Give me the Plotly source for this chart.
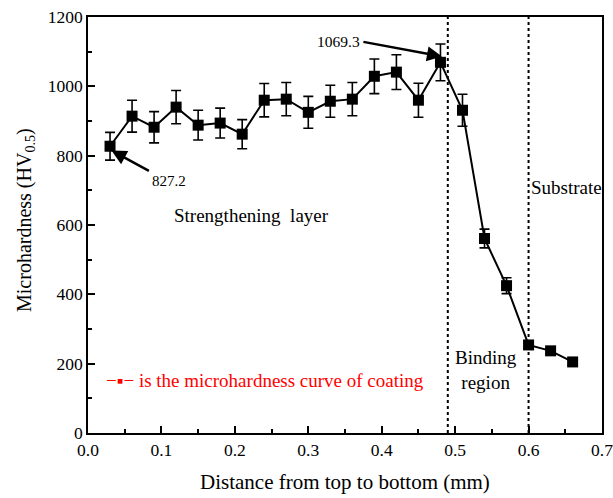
import plotly.graph_objects as go

distance = [0.03, 0.06, 0.09, 0.12, 0.15, 0.18, 0.21, 0.24, 0.27, 0.30, 0.33,
            0.36, 0.39, 0.42, 0.45, 0.48, 0.51, 0.54, 0.57, 0.60, 0.63, 0.66]
hardness = [827.2, 914, 882, 940, 888, 894, 862, 960, 963, 925, 957,
            963, 1029, 1041, 960, 1069.3, 931, 561, 425, 254, 237, 205]
error = [40, 46, 45, 48, 43, 43, 42, 48, 48, 46, 46,
         48, 50, 50, 49, 53, 46, 27, 23, 10, 8, 8]
boundaries = [0.49, 0.60]

FONT = "Liberation Serif"

def f(size, color="black"):
    return dict(family=FONT, size=size, color=color)

fig = go.Figure()
fig.add_trace(go.Scatter(
    x=distance, y=hardness, mode="lines+markers",
    line=dict(color="black", width=2),
    marker=dict(symbol="square", size=11, color="black"),
    error_y=dict(type="data", array=error, visible=True, color="black",
                 thickness=1.6, width=5),
    showlegend=False,
))

for b in boundaries:
    fig.add_shape(type="line", x0=b, x1=b, y0=0, y1=1200, xref="x", yref="y",
                  line=dict(color="black", width=2, dash="dot"))

ann = []
ann.append(dict(x=0.032, y=815, ax=0.085, ay=754, xref="x", yref="y",
                axref="x", ayref="y", text="", showarrow=True,
                arrowhead=2, arrowsize=1.2, arrowwidth=2.5, arrowcolor="black"))
ann.append(dict(x=0.482, y=1086, ax=0.373, ay=1129, xref="x", yref="y",
                axref="x", ayref="y", text="", showarrow=True,
                arrowhead=2, arrowsize=1.2, arrowwidth=2.5, arrowcolor="black"))
ann.append(dict(x=0.110, y=727, xref="x", yref="y", text="827.2",
                showarrow=False, font=f(15)))
ann.append(dict(x=0.341, y=1129, xref="x", yref="y", text="1069.3",
                showarrow=False, font=f(15.5)))
ann.append(dict(x=0.222, y=626, xref="x", yref="y", text="Strengthening  layer",
                showarrow=False, font=f(19)))
ann.append(dict(x=0.652, y=707, xref="x", yref="y", text="Substrate",
                showarrow=False, font=f(19)))
ann.append(dict(x=0.542, y=181, xref="x", yref="y", text="Binding<br>region",
                showarrow=False, font=f(19)))
ann.append(dict(x=0.022, y=152, xref="x", yref="y",
                text="−▪− is the microhardness curve of coating",
                xanchor="left", showarrow=False, font=f(19, "red")))
# axis titles
ann.append(dict(x=0, y=0.5, xref="paper", yref="paper", xanchor="center",
                yanchor="middle", xshift=-63, yshift=5, textangle=-90, showarrow=False,
                text="Microhardness (HV<sub>0.5</sub>)", font=f(20)))
ann.append(dict(x=0.5, y=0, xref="paper", yref="paper", xanchor="center",
                yanchor="middle", xshift=0, yshift=-49, showarrow=False,
                text="Distance from top to bottom (mm)", font=f(21)))

fig.update_layout(
    width=613, height=498,
    margin=dict(l=88, r=11, t=17, b=65),
    paper_bgcolor="white", plot_bgcolor="white",
    font=f(17.5),
    annotations=ann,
)
fig.update_xaxes(
    range=[0, 0.7], dtick=0.1, tickformat=".1f", automargin=False,
    ticklabeloverflow="allow",
    showline=True, linecolor="black", linewidth=1.5, mirror=True,
    ticks="inside", ticklen=7, tickwidth=1.5, tickcolor="black",
    minor=dict(ticks="inside", dtick=0.05, ticklen=4, tickwidth=1.5, tickcolor="black"),
    showgrid=False, zeroline=False,
    tickfont=f(17.5),
)
fig.update_yaxes(
    range=[0, 1200], dtick=200, automargin=False,
    ticklabeloverflow="allow",
    showline=True, linecolor="black", linewidth=1.5, mirror=True,
    ticks="inside", ticklen=7, tickwidth=1.5, tickcolor="black",
    minor=dict(ticks="inside", dtick=100, ticklen=4, tickwidth=1.5, tickcolor="black"),
    showgrid=False, zeroline=False,
    tickfont=f(17.5),
)

# remove the page's default body margin so the 613x498 figure fills the window
fig.write_html("out.html",
               config={"displayModeBar": False},
               post_script="document.body.style.margin='0';document.body.style.overflow='hidden';")
